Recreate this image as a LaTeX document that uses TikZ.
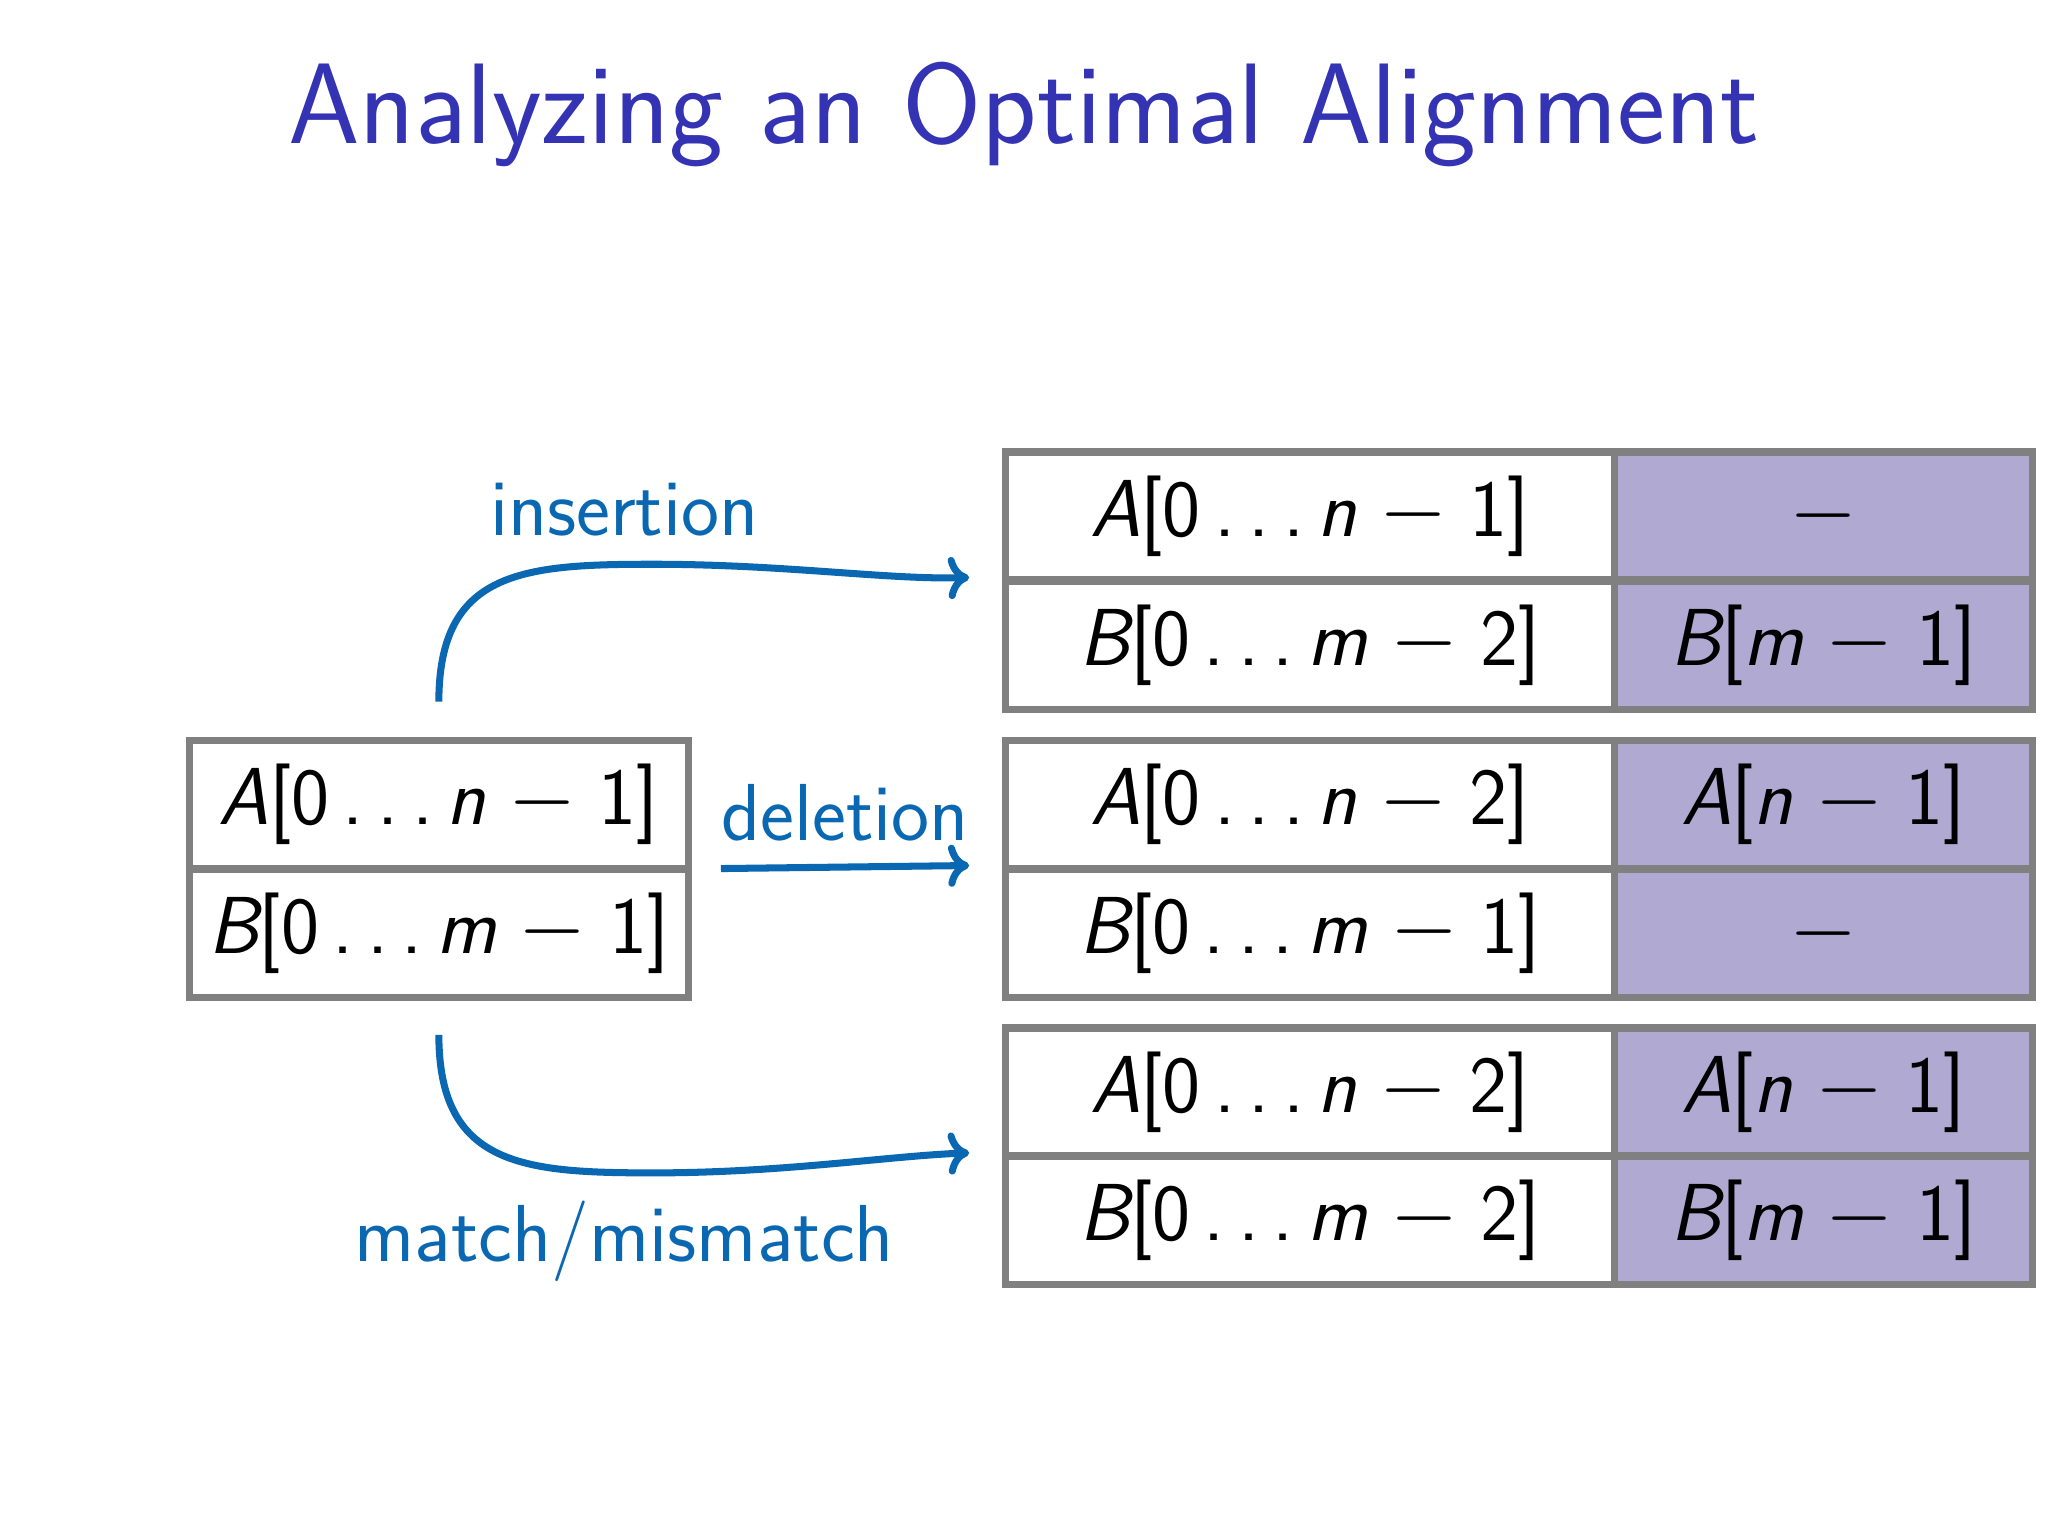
\documentclass[tikz,border=0pt]{standalone}
\usepackage{fontspec}
\usetikzlibrary{calc,arrows.meta}
\definecolor{ttl}{RGB}{51,51,179}
\definecolor{arr}{RGB}{10,104,178}
\definecolor{pur}{RGB}{176,170,210}
\definecolor{brd}{RGB}{128,128,128}
\newcommand\sq[3]{{\itshape #1}[0\,.\,.\,.\,{\itshape #2}\;$-$\;#3]}
\newcommand\el[3]{{\itshape #1}[{\itshape #2}\;$-$\;#3]}
\begin{document}
\begin{tikzpicture}[x=0.01306cm,y=-0.01306cm,font=\sffamily,
  cell/.style={draw=brd,line width=2.1pt,minimum height=1.28cm,inner sep=0pt,font=\sffamily\fontsize{23}{26}\selectfont},
  lc/.style={cell,fill=white,minimum width=4.99cm},
  wc/.style={cell,fill=white,minimum width=6.09cm},
  pc/.style={cell,fill=pur,minimum width=4.18cm},
  lab/.style={text=arr,font=\sffamily\fontsize{23}{26}\selectfont},
  con/.style={draw=arr,line width=2pt,-{To[length=6pt,width=12pt]}}]
\useasboundingbox (0,0) rectangle (1568,1176);
\node[text=ttl,font=\sffamily\fontsize{32.6}{36}\selectfont] (title) at (784,88) {Analyzing an Optimal Alignment};
% left
\node[lc] (la) at (336,616) {\sq{A}{n}{1}};
\node[lc] (lb) at (336,714.5) {\sq{B}{m}{1}};
% right group 1
\node[wc] (a1) at (1003,395) {\sq{A}{n}{1}};
\node[pc] (p1) at (1396,395) {$-$};
\node[wc] (b1) at (1003,494) {\sq{B}{m}{2}};
\node[pc] (q1) at (1396,494) {\el{B}{m}{1}};
% group 2
\node[wc] (a2) at (1003,616) {\sq{A}{n}{2}};
\node[pc] (p2) at (1396,616) {\el{A}{n}{1}};
\node[wc] (b2) at (1003,714.5) {\sq{B}{m}{1}};
\node[pc] (q2) at (1396,714.5) {$-$};
% group 3
\node[wc] (a3) at (1003,836) {\sq{A}{n}{2}};
\node[pc] (p3) at (1396,836) {\el{A}{n}{1}};
\node[wc] (b3) at (1003,934.5) {\sq{B}{m}{2}};
\node[pc] (q3) at (1396,934.5) {\el{B}{m}{1}};
% labels
\node[lab] (li) at (478,390) {insertion};
\node[lab] (ld) at (647,622) {deletion};
\node[lab] (lm) at (478,950) {match/mismatch};
% connectors
\coordinate (s1) at ($(la.north)+(0,-27)$);
\coordinate (e1) at ($(b1.north west)+(-25,0)$);
\draw[con] (s1) .. controls ($(s1)+(0,-100)$) and (400,432) .. (500,432) .. controls (600,432) and (680,444) .. (e1);
\coordinate (s2) at (552,665);
\coordinate (e2) at ($(b2.north west)+(-25,0)$);
\draw[con] (s2) -- (e2);
\coordinate (s3) at ($(lb.south)+(0,26)$);
\coordinate (e3) at ($(b3.north west)+(-25,0)$);
\draw[con] (s3) .. controls ($(s3)+(0,100)$) and (400,898) .. (500,898) .. controls (600,898) and (680,885) .. (e3);
\end{tikzpicture}
\end{document}
